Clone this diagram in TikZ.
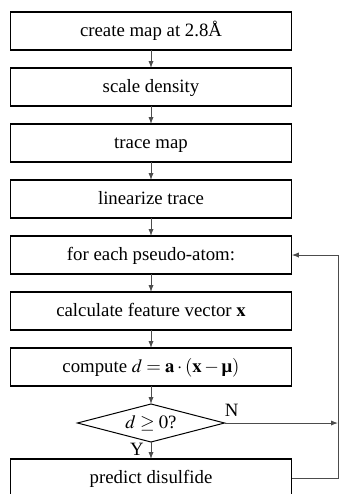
\documentclass[tikz,border=0pt]{standalone}
\usepackage{mathptmx}
\usepackage{amsmath}
\usepackage{fontspec}
\setmainfont{Liberation Serif}
\usetikzlibrary{positioning,shapes.geometric,arrows.meta}

\tikzset{
  stepbox/.style={draw, line width=0.6pt, minimum width=140.75pt, minimum height=19pt, inner sep=0pt, outer sep=0pt, text height=7pt, text depth=2pt},
  testbox/.style={draw, diamond, aspect=3.9, line width=0.5pt, minimum width=73.5pt, minimum height=19pt, inner sep=0pt, outer sep=0pt},
  flow/.style={-{Latex[length=3.5pt,width=2.6pt]}, line width=0.5pt, black!70}
}

\begin{document}
\begin{tikzpicture}[x=0.5pt, y=-0.5pt, node distance=9pt, font=\fontsize{9.4}{11}\selectfont]
\useasboundingbox (0,0) rectangle (340,494);

\node[stepbox] (map) at (151,31) {create map at 2.8Å};
\node[stepbox, below=of map] (scale) {scale density};
\node[stepbox, below=of scale] (trace) {trace map};
\node[stepbox, below=of trace] (linear) {linearize trace};
\node[stepbox, below=of linear] (atom) {for each pseudo-atom:};
\node[stepbox, below=of atom] (feature) {calculate feature vector $\mathbf{x}$};
\node[stepbox, below=of feature] (compute) {compute $d=\mathbf{a}\cdot(\mathbf{x}-\text{\textbf{μ}})$};
\node[testbox, below=of compute] (sign) {$d \geq 0$?};
\node[stepbox, below=8.5pt of sign] (predict) {predict disulfide};

\coordinate (rail) at (338,0);

\foreach \from/\to in {map/scale, scale/trace, trace/linear, linear/atom, atom/feature, feature/compute, compute/sign}
  \draw[flow] (\from) -- (\to);

\draw[flow] (sign) -- (predict);
\node[anchor=east, inner sep=0pt] (yes) at ([xshift=-3.5pt,yshift=-3.5pt]sign.south) {Y};
\draw[flow] (sign.east) -- (sign.east -| rail);
\node[anchor=south west, inner sep=0pt] (no) at ([yshift=3pt]sign.east) {N};
\draw[flow] (predict.east) -- (predict.east -| rail) -- (atom.east -| rail) -- (atom.east);

\end{tikzpicture}
\end{document}
